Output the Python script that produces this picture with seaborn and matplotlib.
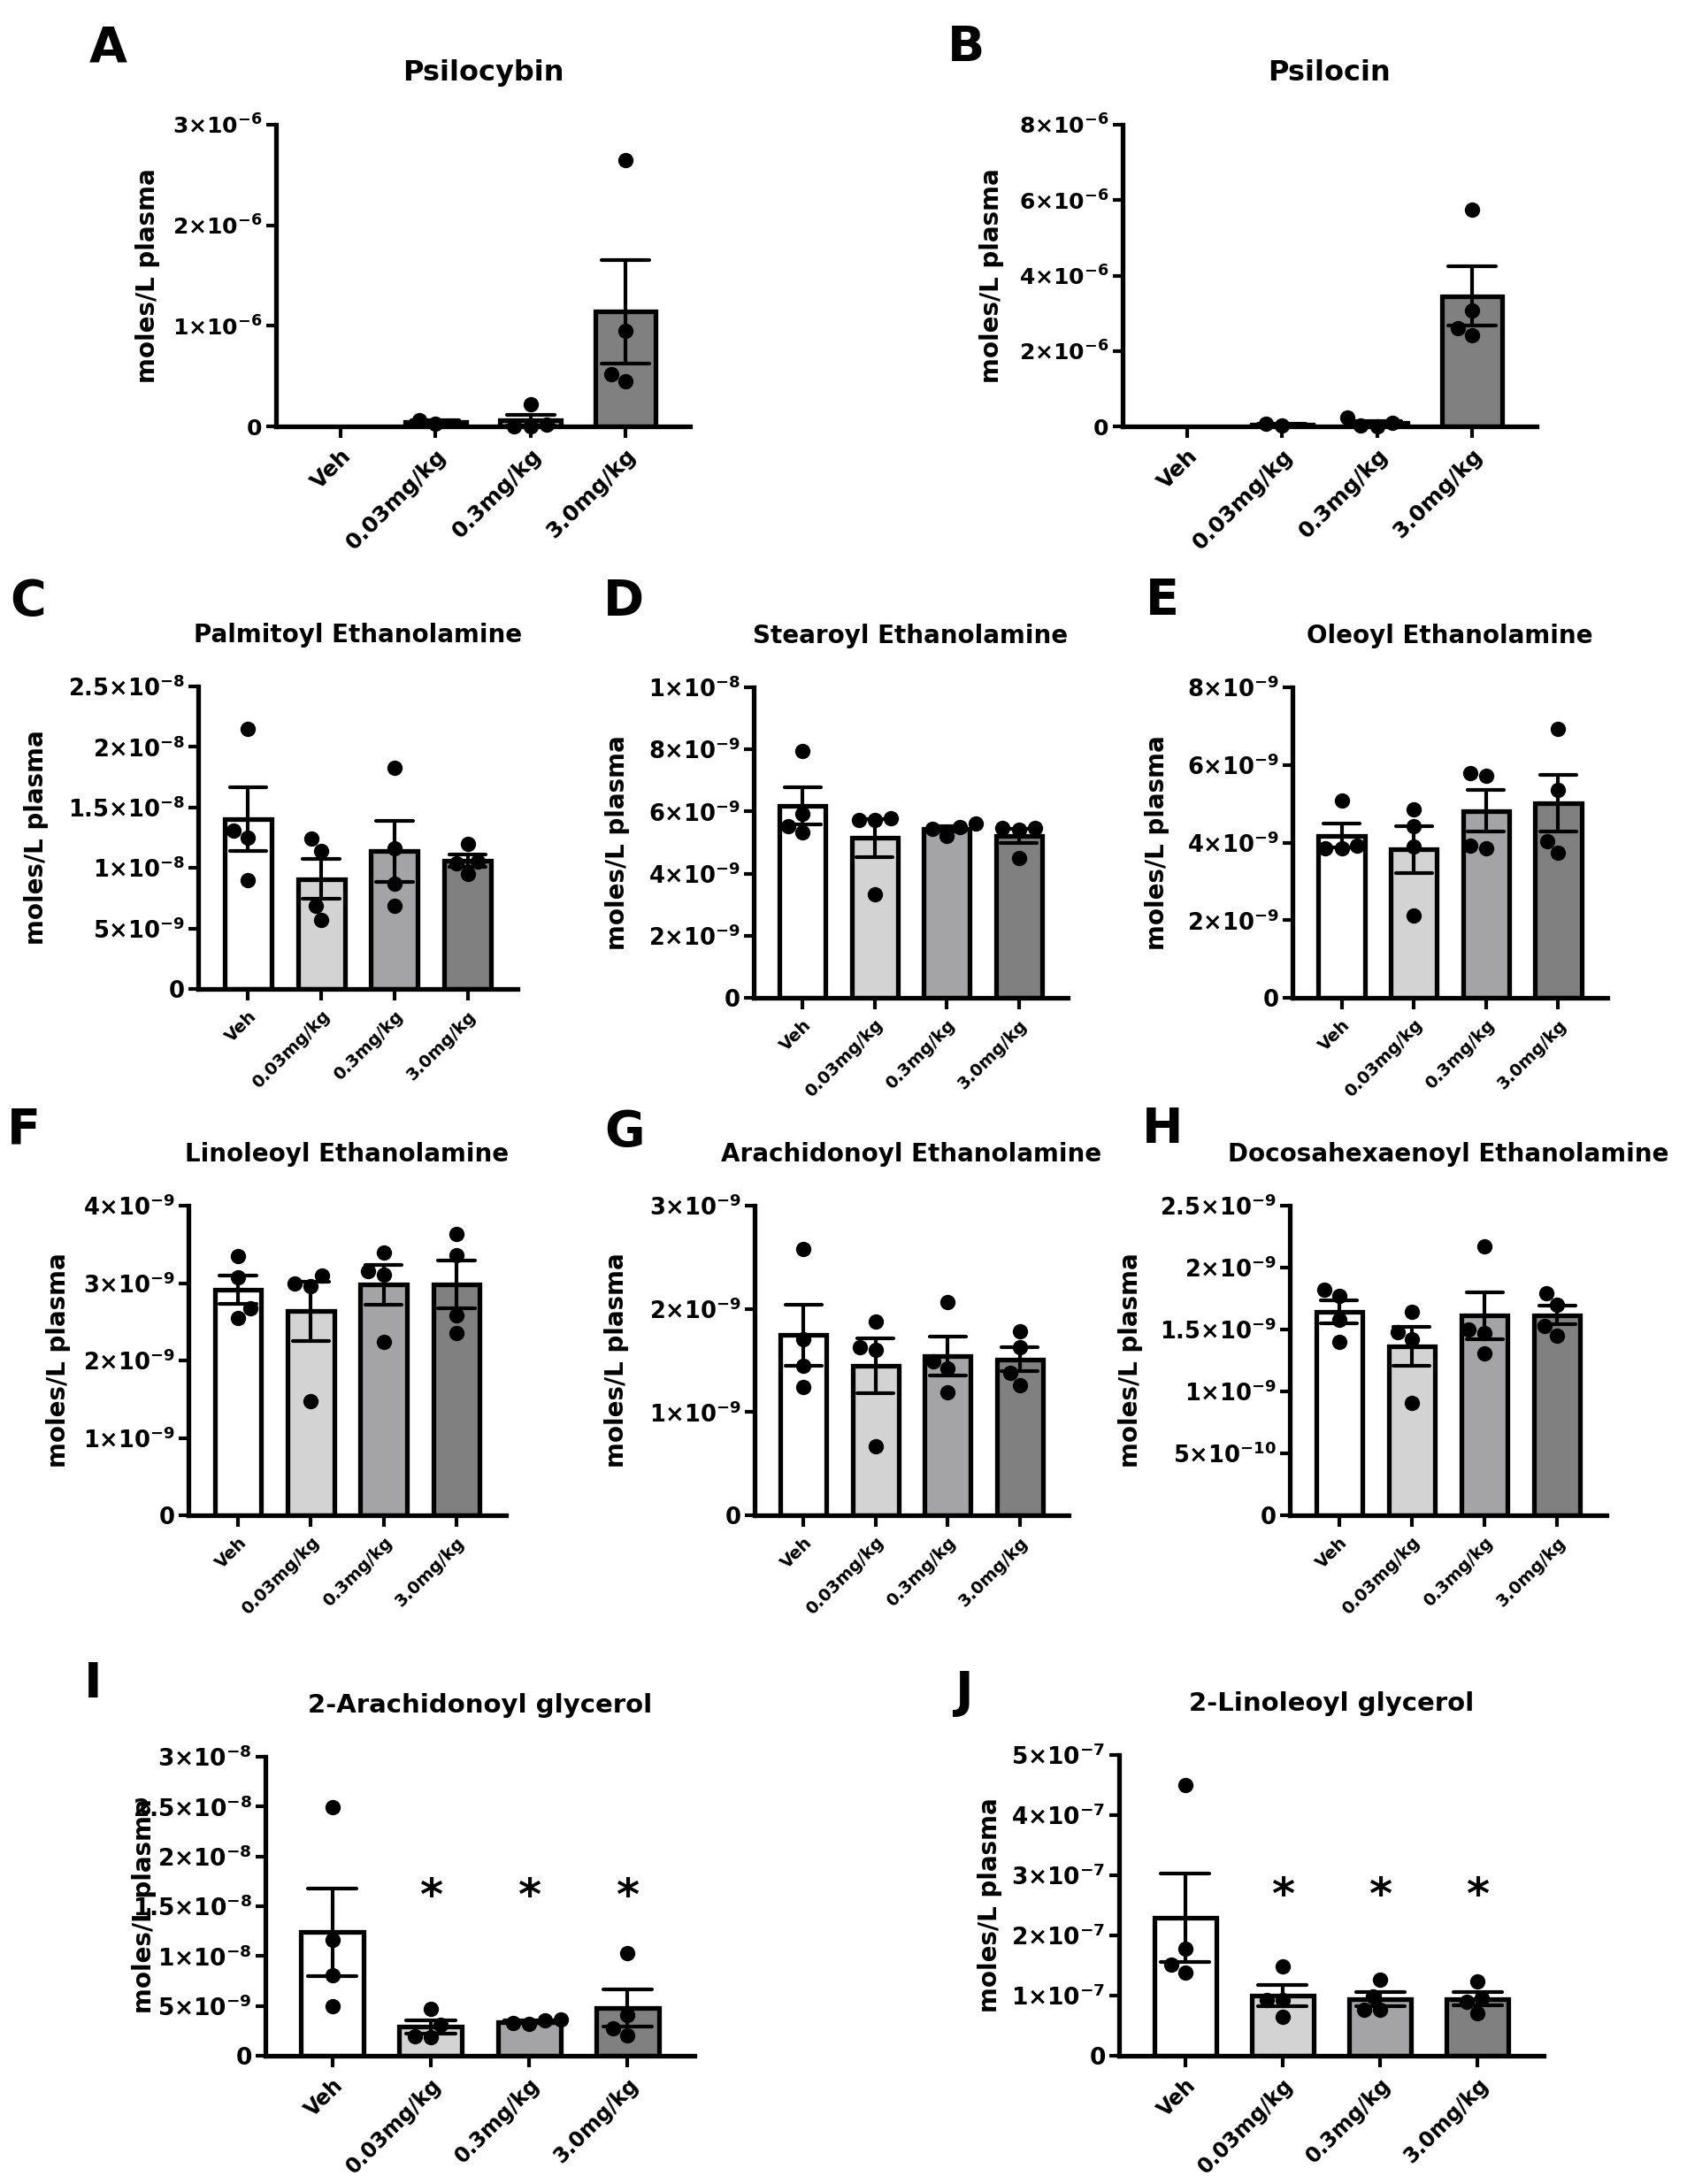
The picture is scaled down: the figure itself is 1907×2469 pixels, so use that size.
import math
import numpy as np
import pandas as pd
import seaborn as sns
import matplotlib.pyplot as plt
import matplotlib.transforms as mtransforms
from matplotlib.ticker import FuncFormatter

# groups and bar colours
groups = ['Veh', '0.03mg/kg', '0.3mg/kg', '3.0mg/kg']
bar_colors = ['#ffffff', '#d3d3d3', '#a4a4a7', '#808080']

# values, one list per group (units given in the name)
psilocybin_e6 = [[], [0.06, 0.03], [0.22, 0.0, 0.02, 0.0], [2.65, 0.95, 0.52, 0.45]]
psilocin_e6 = [[], [0.06, 0.03], [0.24, 0.1, 0.02, 0.0], [5.75, 3.08, 2.6, 2.41]]
palmitoyl_e9 = [[21.5, 13.1, 12.5, 9.0], [12.4, 11.4, 6.9, 5.7],
                [18.3, 11.6, 8.7, 6.9], [12.0, 10.5, 10.4, 9.5]]
stearoyl_e9 = [[7.95, 5.93, 5.32, 5.52], [5.77, 5.72, 5.74, 3.34],
               [5.6, 5.5, 5.45, 5.2], [5.47, 5.42, 5.47, 4.5]]
oleoyl_e9 = [[5.09, 3.85, 3.93, 3.85], [4.86, 4.42, 3.89, 2.12],
             [5.71, 5.79, 3.85, 3.93], [6.93, 5.35, 4.03, 3.74]]
linoleoyl_e9 = [[3.35, 3.08, 2.68, 2.55], [3.10, 2.96, 3.0, 1.48],
                [3.40, 3.16, 3.11, 2.24], [3.63, 3.36, 2.58, 2.35]]
arachidonoyl_ea_e9 = [[2.58, 1.71, 1.45, 1.24], [1.88, 1.63, 1.6, 0.67],
                      [2.07, 1.49, 1.42, 1.19], [1.78, 1.63, 1.38, 1.26]]
dha_ea_e9 = [[1.77, 1.82, 1.58, 1.40], [1.64, 1.48, 1.42, 0.91],
             [2.17, 1.50, 1.47, 1.31], [1.79, 1.70, 1.53, 1.45]]
ag_2_e9 = [[24.9, 11.6, 8.1, 5.0], [4.69, 3.08, 1.95, 1.88],
           [3.6, 3.55, 3.3, 3.2], [10.26, 4.1, 2.74, 2.05]]
lg_2_e7 = [[4.50, 1.78, 1.51, 1.38], [1.48, 0.93, 0.93, 0.65],
           [1.27, 0.99, 0.76, 0.76], [1.24, 0.96, 0.89, 0.70]]

titles = ['Psilocybin', 'Psilocin', 'Palmitoyl Ethanolamine', 'Stearoyl Ethanolamine',
          'Oleoyl Ethanolamine', 'Linoleoyl Ethanolamine', 'Arachidonoyl Ethanolamine',
          'Docosahexaenoyl Ethanolamine', '2-Arachidonoyl glycerol', '2-Linoleoyl glycerol']
letters = ['A', 'B', 'C', 'D', 'E', 'F', 'G', 'H', 'I', 'J']
datasets = [(psilocybin_e6, 1e-6), (psilocin_e6, 1e-6), (palmitoyl_e9, 1e-9),
            (stearoyl_e9, 1e-9), (oleoyl_e9, 1e-9), (linoleoyl_e9, 1e-9),
            (arachidonoyl_ea_e9, 1e-9), (dha_ea_e9, 1e-9), (ag_2_e9, 1e-9), (lg_2_e7, 1e-7)]
y_max = [3e-6, 8e-6, 2.5e-8, 1e-8, 8e-9, 4e-9, 3e-9, 2.5e-9, 3e-8, 5e-7]
y_step = [1e-6, 2e-6, 5e-9, 2e-9, 2e-9, 1e-9, 1e-9, 5e-10, 5e-9, 1e-7]
significant = {8: [1, 2, 3], 9: [1, 2, 3]}

# layout in pixels: axes (left, right, top, bottom), letter centre, ylabel offset
W, H = 1908, 2469
rects = [(312, 780, 141, 482), (1269, 1737, 141, 482),
         (224, 585, 776, 1118), (852, 1207, 777, 1128), (1461, 1817, 777, 1128),
         (213, 572, 1363, 1713), (853, 1208, 1363, 1713), (1458, 1816, 1363, 1713),
         (300, 785, 1986, 2324), (1265, 1745, 1984, 2324)]
letter_pos = [(122, 49), (1092, 49), (32, 675), (705, 675), (1314, 674),
              (27, 1272), (706, 1275), (1314, 1272), (105, 1899), (1089, 1909)]
ylabel_off = [147, 150, 185, 156, 155, 149, 158, 182, 139, 148]
title_size = [23, 23, 20, 20, 20, 20, 20, 20, 21, 21]
ytick_size = [18, 18, 18.5, 18.5, 18.5, 18.5, 18.5, 18.5, 19, 19]
xtick_size = [18, 18, 14, 14, 14, 14, 14, 14, 17, 17]

sns.set_style('ticks')
plt.rcParams['font.family'] = ['DejaVu Sans']
plt.rcParams['font.weight'] = 'bold'
plt.rcParams['mathtext.fontset'] = 'dejavusans'
for key in ['text.color', 'axes.labelcolor', 'xtick.color', 'ytick.color', 'axes.edgecolor']:
    plt.rcParams[key] = 'black'


def sci(v, pos=None):
    if abs(v) < 1e-30:
        return r'$\mathbf{0}$'
    e = math.floor(math.log10(v) + 1e-9)
    m = round(v / 10 ** e, 2)
    return r'$\mathbf{' + f'{m:g}' + r'{\times}10^{' + str(e) + r'}}$'


fig = plt.figure(figsize=(W / 100, H / 100), dpi=100)
palette = dict(zip(groups, bar_colors))

for i, (vals, unit) in enumerate(datasets):
    l, r, t, b = rects[i]
    ax = fig.add_axes([l / W, 1 - b / H, (r - l) / W, (b - t) / H])
    rows = [(g, v * unit) for g, vs in zip(groups, vals) for v in vs]
    df = pd.DataFrame(rows, columns=['group', 'value'])

    sns.barplot(data=df, x='group', y='value', hue='group', order=groups,
                hue_order=groups, palette=palette, legend=False, width=0.64,
                errorbar='se', capsize=0.5, edgecolor='black', linewidth=3.8,
                err_kws={'color': 'black', 'linewidth': 3.0}, ax=ax)
    sns.swarmplot(data=df, x='group', y='value', order=groups, color='black',
                  size=12.5, ax=ax, clip_on=False, zorder=5)

    ax.set_xlim(-0.68, 3.68)
    ax.set_ylim(0, y_max[i])
    ax.set_yticks(np.arange(0, y_max[i] + y_step[i] / 2, y_step[i]))
    ax.yaxis.set_major_formatter(FuncFormatter(sci))
    ax.set_xticks(range(len(groups)))
    ax.set_xticklabels(groups, rotation=45, ha='right', rotation_mode='anchor',
                       fontsize=xtick_size[i], fontweight='bold')
    ax.tick_params(axis='y', labelsize=ytick_size[i], length=8, width=3.0, pad=3)
    ax.tick_params(axis='x', length=9, width=3.0, pad=6)
    sns.despine(ax=ax)
    for side in ['left', 'bottom']:
        ax.spines[side].set_linewidth(3.8)

    ax.set_xlabel('')
    ax.set_ylabel('moles/L plasma', fontsize=20, fontweight='bold')
    ax.yaxis.set_label_coords(-(ylabel_off[i] - 16) / (r - l), 0.5)
    ax.set_title(titles[i], fontsize=title_size[i], fontweight='bold', pad=36)

    trans = mtransforms.blended_transform_factory(ax.transData, ax.transAxes)
    for k in significant.get(i, []):
        ax.text(k, 0.53, '*', transform=trans, ha='center', va='center',
                fontsize=36, fontweight='bold')

    lx, ly = letter_pos[i]
    fig.text(lx / W, 1 - (ly + 20) / H, letters[i], fontsize=40,
             fontweight='bold', ha='center', va='baseline')

fig.savefig('out.png', dpi=100, facecolor='white')
